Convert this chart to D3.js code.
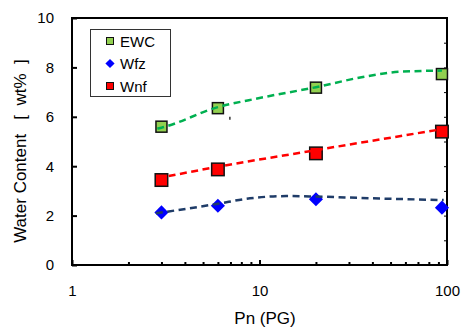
<!DOCTYPE html>
<html>
<head>
<meta charset="utf-8">
<script src="https://cdn.jsdelivr.net/npm/d3@7"></script>
<style>
  html, body { margin: 0; padding: 0; background: #fff; }
  svg { display: block; font-family: "Liberation Sans", Arial, sans-serif; }
</style>
</head>
<body>
<svg id="chart" width="462" height="328"></svg>
<script>
// --- data --------------------------------------------------------------------
const pn  = [3, 6, 20, 94];
const ewc = [5.6, 6.35, 7.18, 7.73];
const wfz = [2.13, 2.4, 2.66, 2.32];
const wnf = [3.44, 3.87, 4.52, 5.4];

// dashed trend curves
const ewcTrendX = [2.85, 3, 6, 10, 20, 35, 55, 94];
const ewcTrendY = [5.52, 5.56, 6.39, 6.76, 7.2, 7.6, 7.82, 7.87];
const wnfTrendX = [2.85, 3, 6, 20, 94];
const wnfTrendY = [3.52, 3.55, 3.98, 4.65, 5.5];
const wfzTrendX = [2.8, 5.9, 8.9, 13.9, 20, 40, 96];
const wfzTrendY = [2.09, 2.47, 2.7, 2.79, 2.77, 2.7, 2.63];

const xMajor = [1, 10, 100];
const xMinor = [2, 3, 4, 5, 6, 7, 8, 9, 20, 30, 40, 50, 60, 70, 80, 90];
const yMajor = [0, 2, 4, 6, 8, 10];
const yMinor = [1, 3, 5, 7, 9];

const series = [
  { name: 'EWC', y: ewc, shape: 'square', fill: '#92d050', size: 11,
    tx: ewcTrendX, ty: ewcTrendY, line: '#00b050' },
  { name: 'Wfz', y: wfz, shape: 'diamond', fill: '#0000ff', size: 10,
    tx: wfzTrendX, ty: wfzTrendY, line: '#1f3c68' },
  { name: 'Wnf', y: wnf, shape: 'square', fill: '#ff0000', size: 12.5,
    tx: wnfTrendX, ty: wnfTrendY, line: '#ff0000' }
];

// --- layout ------------------------------------------------------------------
const svg = d3.select('#chart');
const L = 72, R = 447, T = 18, B = 265;

const x = d3.scaleLog().domain([1, 100]).range([L, R]);
const y = d3.scaleLinear().domain([0, 10]).range([B, T]);

// frame
svg.append('rect')
  .attr('x', L).attr('y', T).attr('width', R - L).attr('height', B - T)
  .attr('fill', 'none').attr('stroke', '#000').attr('stroke-width', 2);

// --- axes --------------------------------------------------------------------
function styleAxis(g, w){
  g.select('.domain').remove();
  g.selectAll('line').attr('stroke', '#000').attr('stroke-width', w || 1.5);
  g.selectAll('text').attr('fill', '#000').attr('font-size', 15)
    .attr('font-family', '"Liberation Sans", Arial, sans-serif');
}

svg.append('g').attr('transform', `translate(${L},0)`)
  .call(d3.axisLeft(y).tickValues(yMajor).tickSize(-5).tickPadding(18)
        .tickFormat(d3.format('d')))
  .call(g => styleAxis(g, 2));

svg.append('g').attr('transform', `translate(${R},0)`)
  .call(d3.axisRight(y).tickValues(yMinor.concat(yMajor)).tickSize(-3).tickFormat(''))
  .call(g => styleAxis(g, 1));

svg.append('g').attr('transform', `translate(0,${B})`)
  .call(d3.axisBottom(x).tickValues(xMajor).tickSize(-5).tickPadding(20)
        .tickFormat(d3.format('d')))
  .call(g => styleAxis(g, 2));

svg.append('g').attr('transform', `translate(0,${B})`)
  .call(d3.axisBottom(x).tickValues(xMinor).tickSize(-3).tickFormat(''))
  .call(g => styleAxis(g, 2));

// axis titles
svg.append('text')
  .attr('x', 265).attr('y', 324).attr('text-anchor', 'middle')
  .attr('font-size', 17).text('Pn (PG)');

svg.append('text')
  .attr('transform', 'translate(26,151) rotate(-90)')
  .attr('text-anchor', 'middle').attr('font-size', 17)
  .attr('xml:space', 'preserve')
  .text('Water Content   [  wt%  ]');

// --- markers -----------------------------------------------------------------
function drawMarker(sel, s, size){
  if (s.shape === 'square'){
    sel.append('rect')
      .attr('x', -size / 2).attr('y', -size / 2)
      .attr('width', size).attr('height', size)
      .attr('fill', s.fill).attr('stroke', '#111').attr('stroke-width', 1.5);
  } else {
    const h = size * Math.SQRT1_2;
    sel.append('path')
      .attr('d', `M0,${-h}L${h},0L0,${h}L${-h},0Z`)
      .attr('fill', s.fill);
  }
}

const marks = svg.append('g');
series.forEach(s => {
  s.y.forEach((v, i) => {
    const g = marks.append('g')
      .attr('transform', `translate(${x(pn[i])},${y(v)})`);
    drawMarker(g, s, s.size);
  });
});

// trend lines sit on top of the markers
const line = d3.line().curve(d3.curveMonotoneX);
series.forEach(s => {
  svg.append('path')
    .attr('d', line(s.tx.map((t, i) => [x(t), y(s.ty[i])])))
    .attr('fill', 'none').attr('stroke', s.line)
    .attr('stroke-width', 2.5).attr('stroke-dasharray', '7,4.5');
});

// small stray tick in the original
svg.append('line')
  .attr('x1', x(6.95)).attr('x2', x(6.95))
  .attr('y1', y(6.0)).attr('y2', y(6.0) + 3)
  .attr('stroke', '#333').attr('stroke-width', 1.5);

// --- legend ------------------------------------------------------------------
const leg = svg.append('g');
leg.append('rect')
  .attr('x', 90.5).attr('y', 29.5).attr('width', 80).attr('height', 67)
  .attr('fill', '#fff').attr('stroke', '#333').attr('stroke-width', 1);

series.forEach((s, i) => {
  const cy = 41 + i * 22.5;
  const g = leg.append('g').attr('transform', `translate(110,${cy})`);
  drawMarker(g, s, s.shape === 'square' ? 7 : 6.5);
  g.select('rect').attr('stroke-width', 1);
  leg.append('text')
    .attr('x', 120).attr('y', cy + 5.5)
    .attr('font-size', 15).text(s.name);
});
</script>
</body>
</html>
